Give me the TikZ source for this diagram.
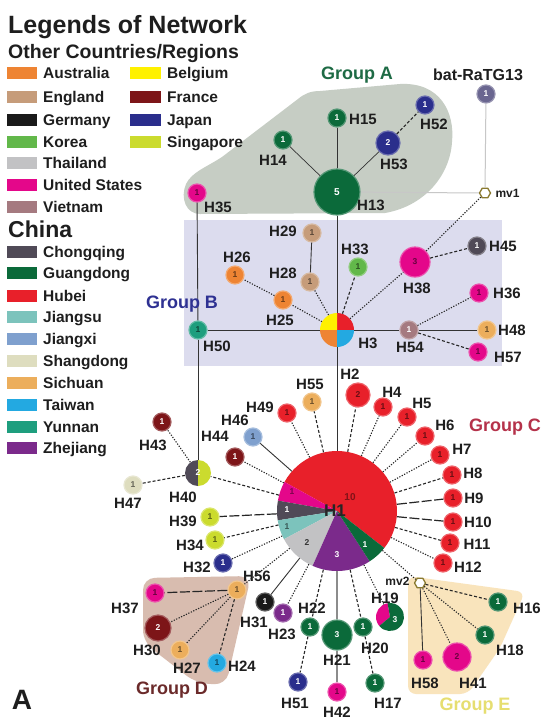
\documentclass[tikz,border=0pt]{standalone}
\usepackage{fontspec}
\setmainfont{Liberation Sans}
\usetikzlibrary{shapes.geometric}
\definecolor{cAus}{HTML}{EE8433}
\definecolor{cEng}{HTML}{C69C7A}
\definecolor{cGer}{HTML}{1A1A1A}
\definecolor{cKor}{HTML}{62B84A}
\definecolor{cTha}{HTML}{C2C2C4}
\definecolor{cUSA}{HTML}{E4078A}
\definecolor{cVie}{HTML}{A57A80}
\definecolor{cBel}{HTML}{FFF100}
\definecolor{cFra}{HTML}{7D1518}
\definecolor{cJap}{HTML}{2A2E8C}
\definecolor{cSin}{HTML}{CBDB2E}
\definecolor{cCho}{HTML}{504A57}
\definecolor{cGua}{HTML}{0B6A3A}
\definecolor{cHub}{HTML}{E8202A}
\definecolor{cJsu}{HTML}{7CC3BC}
\definecolor{cJxi}{HTML}{7FA0CE}
\definecolor{cSha}{HTML}{DEDDBF}
\definecolor{cSic}{HTML}{ECAE5C}
\definecolor{cTai}{HTML}{23A9E1}
\definecolor{cYun}{HTML}{1E9E7E}
\definecolor{cZhe}{HTML}{7B2A8B}
\definecolor{cBat}{HTML}{6A6690}
\definecolor{regA}{HTML}{C6CDC4}
\definecolor{regB}{HTML}{DCDCEE}
\definecolor{regD}{HTML}{D8BCAF}
\definecolor{regE}{HTML}{F9E4BC}
\definecolor{labc}{HTML}{1E1E1E}
\definecolor{mvc}{HTML}{8A7A30}
\definecolor{gAc}{HTML}{1E6B45}
\definecolor{gBc}{HTML}{2E3192}
\definecolor{gCc}{HTML}{B5324A}
\definecolor{gDc}{HTML}{6B2A2A}
\definecolor{gEc}{HTML}{E6DE70}
\newcommand\hnfont{\fontsize{8.5}{9}\selectfont\bfseries}
\newcommand\hlfont{\fontsize{15}{16}\selectfont\bfseries}
\newcommand\hlegfont{\fontsize{15.5}{17}\selectfont\bfseries}
\newcommand\hgfont{\fontsize{18}{20}\selectfont\bfseries}
\newcommand\pslice[6]{\fill[#6] (#1,#2) -- ++(#4:#3pt) arc[start angle=#4, end angle=#5, radius=#3pt] -- cycle;}
\tikzset{
 hap/.style={circle, fill=#1, draw=#1!70!white, line width=1.2pt, minimum size=18pt, inner sep=0pt, font=\hnfont, text=#1!45!black},
 dk/.style={text=white},
 pienode/.style={circle, inner sep=0pt, minimum size=#1},
 lab/.style={font=\hlfont, text=labc, inner sep=1pt},
 es/.style={line width=0.9pt, draw=black!80},
 eg/.style={line width=1.4pt, draw=black!45},
 elight/.style={line width=1pt, draw=black!22},
 edot/.style={line width=1.1pt, dash pattern=on 1.2pt off 1.5pt, draw=black!85},
 edash/.style={line width=1.1pt, dash pattern=on 3pt off 2pt, draw=black!85},
 elong/.style={line width=1.2pt, dash pattern=on 10pt off 2.5pt, draw=black!85},
 mv/.style={regular polygon, regular polygon sides=6, minimum size=11pt, inner sep=0pt, fill=white, draw=mvc, line width=1.3pt},
 legt/.style={font=\hlegfont, text=labc, anchor=base west, inner sep=0pt},
 grp/.style={font=\hgfont},
}
\begin{document}
\begin{tikzpicture}[x=1pt,y=1pt]
\useasboundingbox (0,0) rectangle (550,-721);
\fill[white] (0,0) rectangle (550,-721);
% ---------- regions
\fill[regB] (184,-220) rectangle (502,-366);
\fill[regA] (200,-214) .. controls (186,-214) and (180,-198) .. (186,-184)
  .. controls (192,-172) and (205,-168) .. (222,-157) -- (298,-99)
  .. controls (304,-94) and (310,-91) .. (320,-91) -- (400,-84)
  .. controls (440,-82) and (455,-112) .. (452,-142)
  .. controls (450,-175) and (425,-206) .. (385,-213) -- cycle;
\fill[regD, rounded corners=12pt] (143,-578) -- (251,-576) -- (226,-685) -- (196,-683) -- (143,-642) -- cycle;
\fill[regE, rounded corners=8pt] (408,-576) -- (525,-592) -- (500,-648) -- (468,-694) -- (408,-694) -- cycle;
% ---------- legend
\node[font=\fontsize{25}{27}\selectfont\bfseries, text=labc, anchor=base west, inner sep=0pt] (title) at (8,-33) {Legends of Network};
\node[font=\fontsize{19.5}{21}\selectfont\bfseries, text=labc, anchor=base west, inner sep=0pt] (other) at (8,-58) {Other Countries/Regions};
\foreach \c/\t/\yy [count=\i] in {cAus/Australia/73, cEng/England/97, cGer/Germany/120, cKor/Korea/142, cTha/Thailand/163, cUSA/United States/185, cVie/Vietnam/207, cCho/Chongqing/252, cGua/Guangdong/273, cHub/Hubei/296, cJsu/Jiangsu/317, cJxi/Jiangxi/339, cSha/Shangdong/361, cSic/Sichuan/383, cTai/Taiwan/405, cYun/Yunnan/427, cZhe/Zhejiang/448}{
  \fill[\c] (7,-\yy+6) rectangle (37,-\yy-6);
  \node[legt] (lg\i) at (43,-\yy-5.5) {\t};
}
\foreach \c/\t/\yy [count=\i] in {cBel/Belgium/73, cFra/France/97, cJap/Japan/120, cSin/Singapore/142}{
  \fill[\c] (130,-\yy+6) rectangle (161,-\yy-6);
  \node[legt] (lr\i) at (167,-\yy-5.5) {\t};
}
\node[font=\fontsize{23}{25}\selectfont\bfseries, text=labc, anchor=base west, inner sep=0pt] (china) at (8,-237) {China};
% ---------- pies
\pslice{337}{-511}{60}{-38}{151}{cHub}
\pslice{337}{-511}{60}{151}{170}{cUSA}
\pslice{337}{-511}{60}{170}{189}{cCho}
\pslice{337}{-511}{60}{189}{208}{cJsu}
\pslice{337}{-511}{60}{208}{246}{cTha}
\pslice{337}{-511}{60}{246}{303}{cZhe}
\pslice{337}{-511}{60}{303}{322}{cGua}
\pslice{337}{-330}{17}{0}{90}{cHub}
\pslice{337}{-330}{17}{90}{180}{cBel}
\pslice{337}{-330}{17}{180}{270}{cAus}
\pslice{337}{-330}{17}{270}{360}{cTai}
\pslice{198}{-473}{13}{90}{270}{cCho}
\pslice{198}{-473}{13}{270}{450}{cSin}
\pslice{390}{-617}{14}{100}{220}{cUSA}
\pslice{390}{-617}{14}{220}{460}{cGua}
\node[pienode=120pt] (H1) at (337,-511) {};
\node[pienode=34pt] (H3) at (337,-330) {};
\node[pienode=26pt, font=\hnfont, text=white] (H40) at (198,-473) {2};
\node[pienode=28pt] (H19) at (390,-617) {};
\node[font=\fontsize{10}{11}\selectfont\bfseries, text=cHub!55!black] (n1a) at (350,-497) {10};
\node[font=\hnfont, text=cUSA!55!black] (n1b) at (292,-492) {1};
\node[font=\hnfont, text=white] (n1c) at (287,-510) {1};
\node[font=\hnfont, text=cJsu!45!black] (n1d) at (287,-527) {1};
\node[font=\hnfont, text=black!80] (n1e) at (307,-543) {2};
\node[font=\hnfont, text=white] (n1f) at (337,-555) {3};
\node[font=\hnfont, text=white] (n1g) at (365,-545) {1};
\node[font=\fontsize{17}{18}\selectfont\bfseries, text=black!85] (t1) at (335,-511) {H1};
\node[font=\hnfont, text=white] (n19) at (395,-620) {3};
% ---------- nodes group A
\node[hap=cGua, dk, minimum size=46pt, font=\fontsize{10}{11}\selectfont\bfseries] (H13) at (337,-192) {5};
\node[hap=cGua, dk] (H15) at (337,-118) {1};
\node[hap=cGua, dk] (H14) at (283,-140) {1};
\node[hap=cJap, dk, minimum size=24pt] (H53) at (388,-143) {2};
\node[hap=cJap, dk] (H52) at (425,-105) {1};
\node[hap=cUSA] (H35) at (197,-193) {1};
\node[hap=cBat, dk] (bat) at (486,-94) {1};
\node[mv] (mv1) at (485,-193) {};
% group B
\node[hap=cEng] (H29) at (312,-233) {1};
\node[hap=cEng] (H28) at (310,-282) {1};
\node[hap=cAus] (H26) at (235,-275) {1};
\node[hap=cAus] (H25) at (283,-300) {1};
\node[hap=cKor] (H33) at (358,-267) {1};
\node[hap=cUSA, minimum size=30pt] (H38) at (415,-262) {3};
\node[hap=cCho, dk] (H45) at (477,-246) {1};
\node[hap=cUSA] (H36) at (479,-293) {1};
\node[hap=cSic] (H48) at (487,-330) {1};
\node[hap=cVie, dk] (H54) at (409,-330) {1};
\node[hap=cUSA] (H57) at (478,-352) {1};
\node[hap=cYun] (H50) at (198,-330) {1};
% group C
\node[hap=cHub, minimum size=24pt] (H2) at (358,-395) {2};
\node[hap=cHub] (H4) at (383,-407) {1};
\node[hap=cHub] (H5) at (407,-417) {1};
\node[hap=cHub] (H6) at (425,-436) {1};
\node[hap=cHub] (H7) at (440,-455) {1};
\node[hap=cHub] (H8) at (452,-475) {1};
\node[hap=cHub] (H9) at (453,-498) {1};
\node[hap=cHub] (H10) at (453,-522) {1};
\node[hap=cHub] (H11) at (450,-543) {1};
\node[hap=cHub] (H12) at (443,-563) {1};
\node[hap=cSic] (H55) at (312,-402) {1};
\node[hap=cHub] (H49) at (287,-413) {1};
\node[hap=cFra, dk] (H43) at (162,-422) {1};
\node[hap=cJxi] (H46) at (253,-437) {1};
\node[hap=cFra, dk] (H44) at (235,-457) {1};
\node[hap=cSha] (H47) at (133,-485) {1};
\node[hap=cSin] (H39) at (210,-517) {1};
\node[hap=cSin] (H34) at (215,-540) {1};
\node[hap=cJap, dk] (H32) at (223,-563) {1};
\node[hap=cSic] (H56) at (237,-590) {1};
\node[hap=cUSA] (H37) at (155,-593) {1};
\node[hap=cFra, dk, minimum size=26pt] (H30) at (158,-628) {2};
\node[hap=cSic] (H27) at (180,-650) {1};
\node[hap=cTai] (H24) at (217,-663) {1};
\node[hap=cGer, dk] (H31) at (265,-602) {1};
\node[hap=cZhe, dk] (H23) at (283,-613) {1};
\node[hap=cGua, dk] (H22) at (310,-627) {1};
\node[hap=cGua, dk, minimum size=30pt] (H21) at (337,-635) {3};
\node[hap=cGua, dk] (H20) at (363,-627) {1};
\node[hap=cJap, dk] (H51) at (298,-682) {1};
\node[hap=cUSA] (H42) at (337,-692) {1};
\node[hap=cGua, dk] (H17) at (375,-683) {1};
\node[mv] (mv2) at (420,-583) {};
\node[hap=cGua, dk] (H16) at (498,-602) {1};
\node[hap=cGua, dk] (H18) at (485,-635) {1};
\node[hap=cUSA, minimum size=28pt] (H41) at (457,-657) {2};
\node[hap=cUSA] (H58) at (423,-660) {1};
% ---------- edges
\draw[es] (H13) -- (H15);
\draw[es, line width=0.7pt] (H13) -- (H14);
\draw[es, line width=0.7pt] (H13) -- (H53);
\draw[edash] (H53) -- (H52);
\draw[elight] (H13) -- (mv1);
\draw[elight] (bat) -- (mv1);
\draw[es] (H13) -- (H3);
\draw[es] (H3) -- (H1);
\draw[es] (H35) -- (H50);
\draw[es] (H50) -- (H40);
\draw[es] (H50) -- (H3);
\draw[es] (H3) -- (H54);
\draw[es] (H54) -- (H48);
\draw[edot] (H3) -- (H25);
\draw[edot] (H25) -- (H26);
\draw[edot] (H3) -- (H28);
\draw[es] (H28) -- (H29);
\draw[edash] (H3) -- (H33);
\draw[edot] (H3) -- (H38);
\draw[edot] (H38) -- (mv1);
\draw[edash] (H38) -- (H45);
\draw[edot] (H54) -- (H36);
\draw[edash] (H54) -- (H57);
\foreach \n in {H2,H8,H11,H55,H40,H34,H22,H20}{\draw[edash] (H1) -- (\n);}
\foreach \n in {H4,H5,H6,H7,H12,H49,H44,H32,H56,H23,H19,mv2}{\draw[edot] (H1) -- (\n);}
\foreach \n in {H9,H10,H39}{\draw[elong] (H1) -- (\n);}
\draw[es] (H1) -- (H46);
\draw[es] (H1) -- (H31);
\draw[eg] (H1) -- (H21);
\draw[edot] (H40) -- (H43);
\draw[edash] (H40) -- (H47);
\draw[elong] (H56) -- (H37);
\draw[edot] (H56) -- (H30);
\draw[edot] (H56) -- (H27);
\draw[edash] (H56) -- (H24);
\draw[eg] (H21) -- (H42);
\draw[edash] (H22) -- (H51);
\draw[edash] (H20) -- (H17);
\draw[edash] (mv2) -- (H16);
\draw[edot] (mv2) -- (H18);
\draw[edot] (mv2) -- (H41);
\draw[es] (mv2) -- (H58);
% ---------- labels
\node[lab] (t13) at (371,-205) {H13};
\node[lab] (t15) at (363,-119) {H15};
\node[lab] (t14) at (273,-160) {H14};
\node[lab] (t53) at (394,-164) {H53};
\node[lab] (t52) at (434,-124) {H52};
\node[lab] (t35) at (218,-207) {H35};
\node[font=\fontsize{16}{17}\selectfont\bfseries, text=labc] (tbat) at (478,-75) {bat-RaTG13};
\node[font=\fontsize{12}{13}\selectfont\bfseries, text=labc, anchor=west] (tmv1) at (492,-193) {mv1};
\node[lab] (t29) at (283,-231) {H29};
\node[lab] (t28) at (283,-273) {H28};
\node[lab] (t26) at (237,-257) {H26};
\node[lab] (t25) at (280,-320) {H25};
\node[lab] (t33) at (355,-249) {H33};
\node[lab] (t3) at (368,-343) {H3};
\node[lab] (t38) at (417,-288) {H38};
\node[lab] (t45) at (503,-246) {H45};
\node[lab] (t36) at (507,-293) {H36};
\node[lab] (t48) at (512,-330) {H48};
\node[lab] (t54) at (410,-347) {H54};
\node[lab] (t57) at (508,-357) {H57};
\node[lab] (t50) at (217,-346) {H50};
\node[lab] (t2) at (350,-374) {H2};
\node[lab] (t4) at (392,-392) {H4};
\node[lab] (t5) at (422,-403) {H5};
\node[lab] (t6) at (445,-425) {H6};
\node[lab] (t7) at (462,-449) {H7};
\node[lab] (t8) at (473,-473) {H8};
\node[lab] (t9) at (474,-498) {H9};
\node[lab] (t10) at (478,-522) {H10};
\node[lab] (t11) at (477,-544) {H11};
\node[lab] (t12) at (468,-567) {H12};
\node[lab] (t55) at (310,-384) {H55};
\node[lab] (t49) at (260,-407) {H49};
\node[lab] (t43) at (153,-445) {H43};
\node[lab] (t46) at (235,-420) {H46};
\node[lab] (t44) at (215,-436) {H44};
\node[lab] (t40) at (183,-497) {H40};
\node[lab] (t47) at (128,-503) {H47};
\node[lab] (t39) at (183,-521) {H39};
\node[lab] (t34) at (190,-545) {H34};
\node[lab] (t32) at (197,-567) {H32};
\node[lab] (t56) at (257,-576) {H56};
\node[lab] (t37) at (125,-608) {H37};
\node[lab] (t30) at (147,-650) {H30};
\node[lab] (t27) at (187,-668) {H27};
\node[lab] (t24) at (242,-666) {H24};
\node[lab] (t31) at (254,-622) {H31};
\node[lab] (t23) at (282,-634) {H23};
\node[lab] (t22) at (312,-608) {H22};
\node[lab] (t21) at (337,-660) {H21};
\node[lab] (t20) at (375,-648) {H20};
\node[lab] (t19) at (385,-598) {H19};
\node[lab] (t51) at (295,-703) {H51};
\node[lab] (t42) at (337,-712) {H42};
\node[lab] (t17) at (388,-703) {H17};
\node[font=\fontsize{12}{13}\selectfont\bfseries, text=labc, anchor=east] (tmv2) at (413,-581) {mv2};
\node[lab] (t16) at (527,-608) {H16};
\node[lab] (t18) at (510,-650) {H18};
\node[lab] (t41) at (473,-683) {H41};
\node[lab] (t58) at (425,-683) {H58};
% ---------- group labels
\node[grp, text=gAc] (gA) at (357,-75) {Group A};
\node[grp, text=gBc] (gB) at (182,-304) {Group B};
\node[grp, text=gCc] (gC) at (505,-427) {Group C};
\node[grp, text=gDc] (gD) at (172,-690) {Group D};
\node[grp, text=gEc] (gE) at (475,-706) {Group E};
\node[font=\fontsize{28}{30}\selectfont\bfseries, text=labc] (pA) at (22,-700) {A};
\end{tikzpicture}
\end{document}
